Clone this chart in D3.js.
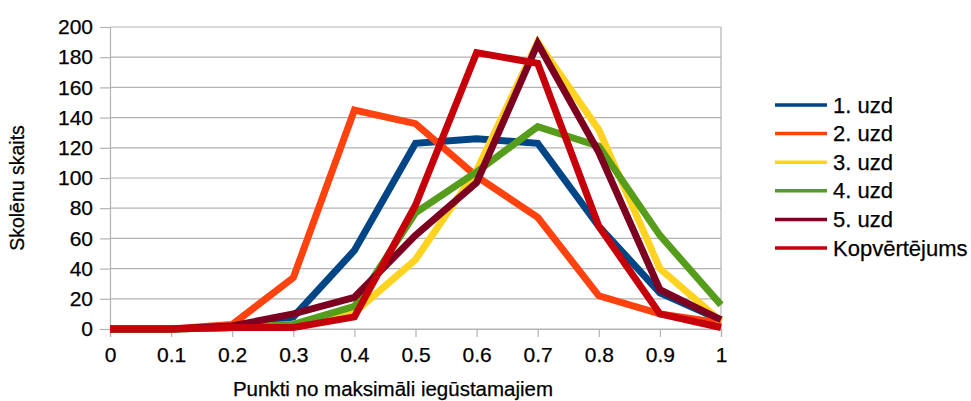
<!DOCTYPE html>
<html><head><meta charset="utf-8">
<script src="https://cdn.jsdelivr.net/npm/d3@7"></script>
<style>body{margin:0;background:#fff}svg text{font-family:"Liberation Sans",Arial,sans-serif;fill:#000;stroke:#000;stroke-width:0.25px}</style>
</head><body><svg id="c" width="971" height="401"></svg>
<script>
const xValues = [0,0.1,0.2,0.3,0.4,0.5,0.6,0.7,0.8,0.9,1];
const seriesNames = ["1. uzd","2. uzd","3. uzd","4. uzd","5. uzd","Kopvērtējums"];
const seriesColors = ["#004586","#ff420e","#ffd320","#579d1c","#7e0021","#c5000b"];
const uzd1 = [0,0,1,8,52,123,126,123,68,24,6];
const uzd2 = [0,0,3,34,145,136,101,74,22,10,4];
const uzd3 = [0,0,1,3,11,46,105,190,132,40,5];
const uzd4 = [0,0,1,3,15,77,104,134,121,62,16];
const uzd5 = [0,0,2,10,21,62,97,189,117,26,6];
const kopv = [0,0,1,1,8,82,183,176,68,10,1];
const yTicks = [0,20,40,60,80,100,120,140,160,180,200];
const xTickLabels = ["0","0.1","0.2","0.3","0.4","0.5","0.6","0.7","0.8","0.9","1"];
const allSeries = [uzd1,uzd2,uzd3,uzd4,uzd5,kopv];

const svg = d3.select("#c");
const L=110,R=721,T=27,B=329;
const x = d3.scaleLinear().domain([0,1]).range([L,R]);
const y = d3.scaleLinear().domain([0,200]).range([B,T]);

// grid
svg.append("g").selectAll("line").data(yTicks).join("line")
  .attr("x1",L).attr("x2",R).attr("y1",d=>y(d)).attr("y2",d=>y(d))
  .attr("stroke","#b3b3b3").attr("stroke-width",1.2);
svg.append("line").attr("x1",R).attr("x2",R).attr("y1",T).attr("y2",B).attr("stroke","#b3b3b3").attr("stroke-width",1.2);

// y axis
const ya = svg.append("g").attr("transform",`translate(${L},0)`)
  .call(d3.axisLeft(y).tickValues(yTicks).tickSize(10).tickPadding(7).tickFormat(d3.format("d")));
ya.select(".domain").attr("stroke","#b3b3b3").attr("stroke-width",1.2);
ya.selectAll(".tick line").attr("stroke","#b3b3b3").attr("stroke-width",1.2);
ya.selectAll("text").attr("font-size",21).attr("font-family","Liberation Sans, Arial, sans-serif").attr("fill","#000");

// x axis
const xa = svg.append("g").attr("transform",`translate(0,${B})`)
  .call(d3.axisBottom(x).tickValues(xValues).tickSize(8).tickPadding(10).tickFormat((d,i)=>xTickLabels[i]));
xa.select(".domain").attr("stroke","#b3b3b3").attr("stroke-width",1.2);
xa.selectAll(".tick line").attr("stroke","#b3b3b3").attr("stroke-width",1.2);
xa.selectAll("text").attr("font-size",21).attr("font-family","Liberation Sans, Arial, sans-serif").attr("fill","#000");

// lines
const line = d3.line().x((d,i)=>x(xValues[i])).y(d=>y(d));
svg.append("g").selectAll("path").data(allSeries).join("path")
  .attr("d",d=>line(d)).attr("fill","none")
  .attr("stroke",(d,i)=>seriesColors[i]).attr("stroke-width",7)
  .attr("stroke-linejoin","miter").attr("stroke-miterlimit",4);

// titles
svg.append("text").attr("transform","translate(24,188) rotate(-90)").attr("text-anchor","middle")
  .attr("font-size",19.5).text("Skolēnu skaits");
svg.append("text").attr("x",393).attr("y",396).attr("text-anchor","middle")
  .attr("font-size",20.5).text("Punkti no maksimāli iegūstamajiem");

// legend
const lg = svg.append("g").selectAll("g").data(seriesNames).join("g")
  .attr("transform",(d,i)=>`translate(775,${105+i*28.6})`);
lg.append("line").attr("x1",0).attr("x2",52).attr("y1",0).attr("y2",0)
  .attr("stroke",(d,i)=>seriesColors[i]).attr("stroke-width",3.5);
lg.append("text").attr("x",58).attr("y",7.5).attr("font-size",22).text(d=>d);
</script></body></html>
